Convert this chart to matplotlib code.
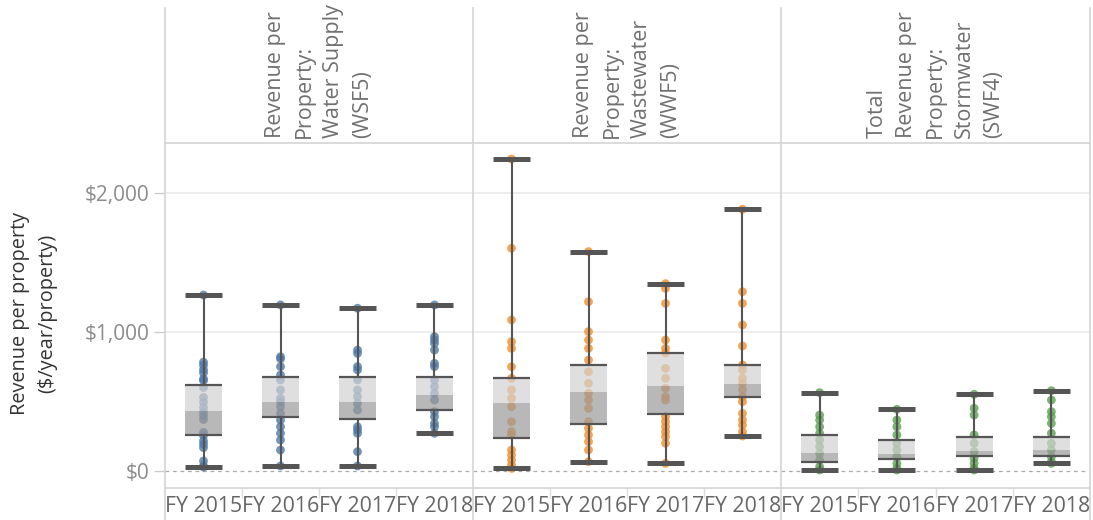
import matplotlib
matplotlib.use("Agg")
import matplotlib.pyplot as plt
from matplotlib.lines import Line2D

plt.rcParams['font.family'] = ['Open Sans', 'DejaVu Sans']

# ---------------- data ----------------
years = ["FY 2015", "FY 2016", "FY 2017", "FY 2018"]
panel_titles = [
    "Revenue per\nProperty:\nWater Supply\n(WSF5)",
    "Revenue per\nProperty:\nWastewater\n(WWF5)",
    "Total\nRevenue per\nProperty:\nStormwater\n(SWF4)",
]
series_colors = ["#4e79a7", "#f28e2b", "#59a14f"]
y_ticks = [0, 1000, 2000]

water_points = [
    [1264, 782, 760, 727, 705, 662, 650, 600, 529, 495, 457, 425, 397, 370, 277, 255, 217, 193, 168, 72, 36, 28],
    [1193, 821, 806, 750, 690, 654, 582, 522, 498, 462, 414, 366, 318, 271, 223, 151, 36],
    [1169, 869, 845, 750, 726, 654, 582, 534, 486, 438, 318, 295, 271, 139, 36],
    [1193, 965, 941, 917, 869, 773, 750, 654, 606, 558, 510, 426, 390, 342, 318, 271],
]
water_q1 = [256, 390, 376, 438]
water_median = [431, 498, 498, 546]
water_q3 = [618, 678, 678, 678]

wastewater_points = [
    [2241, 1600, 1085, 929, 881, 749, 666, 582, 522, 462, 354, 282, 259, 151, 115, 79, 43, 19],
    [1576, 1216, 1001, 941, 881, 797, 713, 630, 558, 510, 450, 354, 307, 259, 211, 151, 67],
    [1346, 1312, 1204, 941, 881, 848, 737, 666, 594, 534, 510, 390, 354, 318, 282, 247, 199, 55],
    [1880, 1288, 1204, 1049, 898, 762, 726, 666, 630, 582, 534, 498, 414, 366, 330, 282, 251],
]
wastewater_q1 = [235, 338, 412, 534]
wastewater_median = [486, 570, 608, 623]
wastewater_q3 = [666, 762, 848, 762]

storm_points = [
    [563, 402, 366, 318, 271, 223, 175, 127, 79, 31, 7],
    [443, 366, 318, 259, 199, 151, 103, 55, 19, 7],
    [551, 451, 402, 259, 199, 139, 91, 55, 19, 7],
    [577, 510, 426, 390, 342, 271, 199, 151, 103, 67, 55],
]
storm_q1 = [62, 84, 110, 110]
storm_median = [127, 122, 146, 151]
storm_q3 = [259, 220, 247, 247]

panels = [
    (water_points, water_q1, water_median, water_q3),
    (wastewater_points, wastewater_q1, wastewater_median, wastewater_q3),
    (storm_points, storm_q1, storm_median, storm_q3),
]

# ---------------- layout ----------------
W, H = 1093, 520
fig = plt.figure(figsize=(W / 100, H / 100), dpi=100)

def fx(px):
    return px / W

def fy(py):
    return 1 - py / H

panel_edges = [165, 473, 781, 1090]
plot_top, plot_bottom = 143, 488
box_w = 0.48
line_col = "#555555"
sep_col = "#d4d4d4"

for i, (pts, q1, med, q3) in enumerate(panels):
    left = panel_edges[i]
    width = panel_edges[i + 1] - left
    ax = fig.add_axes([fx(left), fy(plot_bottom), fx(width), (plot_bottom - plot_top) / H])
    ax.set_xlim(-0.5, 3.5)
    ax.set_ylim(-122, 2356)
    for s in ax.spines.values():
        s.set_visible(False)
    for t in y_ticks:
        if t == 0:
            ax.axhline(t, color="#aaaaaa", lw=0.9, ls=(0, (3, 3)), zorder=1)
        else:
            ax.axhline(t, color="#ebebeb", lw=1.2, zorder=0)
    color = series_colors[i]
    for j, vals in enumerate(pts):
        vmin, vmax = min(vals), max(vals)
        ax.scatter([j] * len(vals), vals, s=40, color=color, alpha=0.8,
                   edgecolors="none", zorder=2)
        # box fill (semi-transparent, drawn over the dots)
        ax.bar(j, med[j] - q1[j], bottom=q1[j], width=box_w, color="#9a9a9a",
               alpha=0.7, zorder=3, linewidth=0)
        ax.bar(j, q3[j] - med[j], bottom=med[j], width=box_w, color="#d2d2d2",
               alpha=0.7, zorder=3, linewidth=0)
        ax.hlines([q1[j], q3[j]], j - box_w / 2, j + box_w / 2, color=line_col,
                  lw=1.6, zorder=4)
        ax.vlines(j, q3[j], vmax, color=line_col, lw=1.5, zorder=4)
        ax.vlines(j, vmin, q1[j], color=line_col, lw=1.5, zorder=4)
        ax.hlines([vmin, vmax], j - box_w / 2, j + box_w / 2, color=line_col,
                  lw=3.6, zorder=5)
    ax.set_xticks(range(len(years)))
    ax.set_xticklabels(years, fontsize=15.3, color="#666666")
    ax.set_xticks([0.5, 1.5, 2.5], minor=True)
    ax.tick_params(axis="x", which="major", length=0, pad=6)
    ax.tick_params(axis="x", which="minor", length=7, color="#dddddd", width=1)
    ax.set_yticks(y_ticks)
    if i == 0:
        ax.set_yticklabels([f"${t:,}" for t in y_ticks], fontsize=15, color="#8c8c8c")
        ax.tick_params(axis="y", length=8, color="#cccccc", width=1, pad=3)
    else:
        ax.tick_params(axis="y", left=False, labelleft=False)
    # header title
    fig.text(fx(left + width / 2), fy(138), panel_titles[i], rotation=90,
             ha="center", va="bottom", multialignment="left", fontsize=15.5,
             color="#707070", linespacing=1.5)

# separators
for x in panel_edges:
    fig.add_artist(Line2D([fx(x), fx(x)], [fy(8), 0], color=sep_col, lw=1.2))
for y in (plot_top, plot_bottom):
    fig.add_artist(Line2D([fx(panel_edges[0]), fx(panel_edges[-1])], [fy(y), fy(y)],
                          color=sep_col, lw=1.2))

fig.text(fx(34), fy(313), "Revenue per property\n($/year/property)", rotation=90,
         ha="center", va="center", multialignment="center", fontsize=14.3,
         color="#333333", linespacing=1.5)

fig.savefig("out.png", dpi=100)
